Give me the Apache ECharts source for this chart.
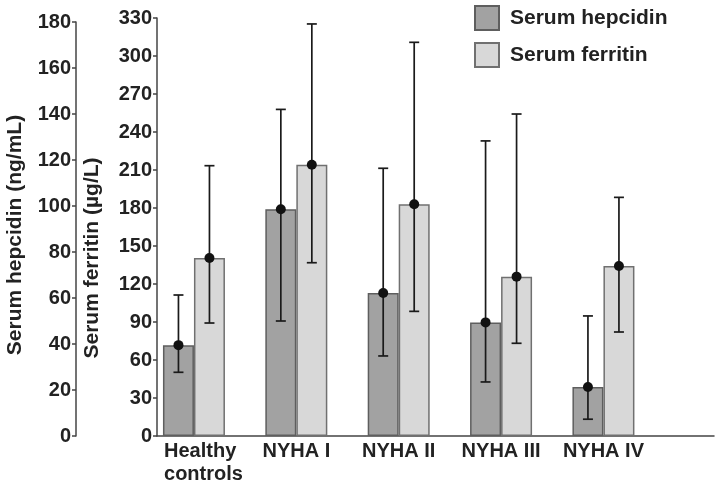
<!DOCTYPE html>
<html>
<head>
<meta charset="utf-8">
<script src="https://cdn.jsdelivr.net/npm/echarts@6/dist/echarts.min.js"></script>
<style>
html,body{margin:0;padding:0;background:#fff;}
#chart{width:720px;height:487px;}
</style>
</head>
<body>
<div id="chart"></div>
<script>
const categories = ['Healthy\ncontrols', 'NYHA I', 'NYHA II', 'NYHA III', 'NYHA IV'];
const seriesNames = ['Serum hepcidin', 'Serum ferritin'];
const hepcidinMean = [39.5, 98.6, 62.2, 49.4, 21.3];
const hepcidinLow  = [27.7, 50.0, 34.8, 23.5, 7.3];
const hepcidinHigh = [61.3, 142.0, 116.4, 128.3, 52.2];
const ferritinMean = [140.5, 214.2, 182.9, 125.8, 134.2];
const ferritinLow  = [89.2, 136.8, 98.4, 73.2, 82.1];
const ferritinHigh = [213.4, 325.3, 310.8, 254.2, 188.4];
const hepcidinTicks = [0, 20, 40, 60, 80, 100, 120, 140, 160, 180];
const ferritinTicks = [0, 30, 60, 90, 120, 150, 180, 210, 240, 270, 300, 330];

const FONT = "'Liberation Sans', Arial, sans-serif";
const BAR_W = 31;
const catIdx = categories.map((c, i) => i);

function errRender(offset) {
  return function (params, api) {
    const x = api.value(0);
    const m = api.coord([x, api.value(1)]);
    const lo = api.coord([x, api.value(2)]);
    const hi = api.coord([x, api.value(3)]);
    const cx = m[0] + offset;
    const cap = 5;
    const st = { stroke: '#1a1a1a', lineWidth: 1.7 };
    return {
      type: 'group',
      children: [
        { type: 'line', shape: { x1: cx, y1: lo[1], x2: cx, y2: hi[1] }, style: st },
        { type: 'line', shape: { x1: cx - cap, y1: hi[1], x2: cx + cap, y2: hi[1] }, style: st },
        { type: 'line', shape: { x1: cx - cap, y1: lo[1], x2: cx + cap, y2: lo[1] }, style: st },
        { type: 'circle', shape: { cx: cx, cy: m[1], r: 5 }, style: { fill: '#111' } }
      ]
    };
  };
}

const xBase = {
  type: 'value', min: -0.361, max: 5.08,
  splitLine: { show: false }, axisTick: { show: false }
};

const labelRich = {
  hc: { align: 'left', padding: [0, 0, 0, 19], lineHeight: 23, fontSize: 20, fontWeight: 'bold', fontFamily: FONT, color: '#222' }
};

const option = {
  animation: false,
  backgroundColor: '#fff',
  legend: {
    data: seriesNames,
    orient: 'vertical', left: 474, top: 5, padding: 0,
    itemWidth: 24, itemHeight: 24, itemGap: 11,
    icon: 'rect',
    textStyle: { fontSize: 21, fontWeight: 'bold', fontFamily: FONT, color: '#222', padding: [0, 0, 0, 6] }
  },
  grid: [
    { left: 157, right: 6, top: 22, bottom: 51, outerBoundsMode: 'none', containLabel: false },
    { left: 157, right: 6, top: 18, bottom: 51, outerBoundsMode: 'none', containLabel: false }
  ],
  xAxis: [
    Object.assign({}, xBase, { gridIndex: 0, show: false }),
    Object.assign({}, xBase, {
      gridIndex: 1,
      axisLine: { onZero: false, lineStyle: { color: '#444', width: 1.5 } },
      axisLabel: {
        customValues: catIdx,
        margin: 4,
        fontSize: 20, fontWeight: 'bold', fontFamily: FONT, color: '#222',
        lineHeight: 23,
        rich: labelRich,
        formatter: function (v) {
          const s = categories[Math.round(v)];
          if (s.indexOf('\n') >= 0) return s.split('\n').map(t => '{hc|' + t + '}').join('\n');
          return s;
        }
      }
    })
  ],
  yAxis: [
    {
      type: 'value', gridIndex: 0, position: 'left', offset: 81,
      min: hepcidinTicks[0], max: hepcidinTicks[hepcidinTicks.length - 1], interval: hepcidinTicks[1] - hepcidinTicks[0],
      name: 'Serum hepcidin (ng/mL)', nameLocation: 'middle', nameGap: 50,
      nameTextStyle: { fontSize: 21, fontWeight: 'bold', fontFamily: FONT, color: '#222', padding: [0, 12, 0, 0] },
      axisLine: { show: true, onZero: false, lineStyle: { color: '#444', width: 1.5 } },
      axisTick: { show: true, length: 4, lineStyle: { color: '#444', width: 1.5 } },
      axisLabel: { margin: 5, fontSize: 20, fontWeight: 'bold', fontFamily: FONT, color: '#222' },
      splitLine: { show: false }
    },
    {
      type: 'value', gridIndex: 1, position: 'left',
      min: ferritinTicks[0], max: ferritinTicks[ferritinTicks.length - 1], interval: ferritinTicks[1] - ferritinTicks[0],
      name: 'Serum ferritin (µg/L)', nameLocation: 'middle', nameGap: 54,
      nameTextStyle: { fontSize: 21, fontWeight: 'bold', fontFamily: FONT, color: '#222', padding: [0, 62, 0, 0] },
      axisLine: { show: true, onZero: false, lineStyle: { color: '#444', width: 1.5 } },
      axisTick: { show: true, length: 4, lineStyle: { color: '#444', width: 1.5 } },
      axisLabel: { margin: 5, fontSize: 20, fontWeight: 'bold', fontFamily: FONT, color: '#222' },
      splitLine: { show: false }
    }
  ],
  series: [
    {
      name: seriesNames[0], type: 'bar', xAxisIndex: 0, yAxisIndex: 0,
      barWidth: BAR_W, barGap: '0%',
      itemStyle: { color: '#a2a2a2', borderColor: '#5e5e5e', borderWidth: 1.5 },
      data: hepcidinMean.map((v, i) => [i, v])
    },
    {
      name: 'ghost0', type: 'bar', xAxisIndex: 0, yAxisIndex: 0,
      barWidth: BAR_W, barGap: '0%',
      data: hepcidinMean.map((v, i) => [i, '-'])
    },
    {
      name: 'ghost1', type: 'bar', xAxisIndex: 1, yAxisIndex: 1,
      barWidth: BAR_W, barGap: '0%',
      data: ferritinMean.map((v, i) => [i, '-'])
    },
    {
      name: seriesNames[1], type: 'bar', xAxisIndex: 1, yAxisIndex: 1,
      barWidth: BAR_W, barGap: '0%',
      itemStyle: { color: '#d8d8d8', borderColor: '#707070', borderWidth: 1.5 },
      data: ferritinMean.map((v, i) => [i, v])
    },
    {
      name: 'hepErr', type: 'custom', xAxisIndex: 0, yAxisIndex: 0, z: 10, clip: false,
      renderItem: errRender(-BAR_W / 2),
      encode: { x: 0, y: [1, 2, 3] },
      data: hepcidinMean.map((v, i) => [i, v, hepcidinLow[i], hepcidinHigh[i]])
    },
    {
      name: 'ferErr', type: 'custom', xAxisIndex: 1, yAxisIndex: 1, z: 10, clip: false,
      renderItem: errRender(BAR_W / 2),
      encode: { x: 0, y: [1, 2, 3] },
      data: ferritinMean.map((v, i) => [i, v, ferritinLow[i], ferritinHigh[i]])
    }
  ]
};

const chart = echarts.init(document.getElementById('chart'), null, { renderer: 'canvas' });
chart.setOption(option);
</script>
</body>
</html>
